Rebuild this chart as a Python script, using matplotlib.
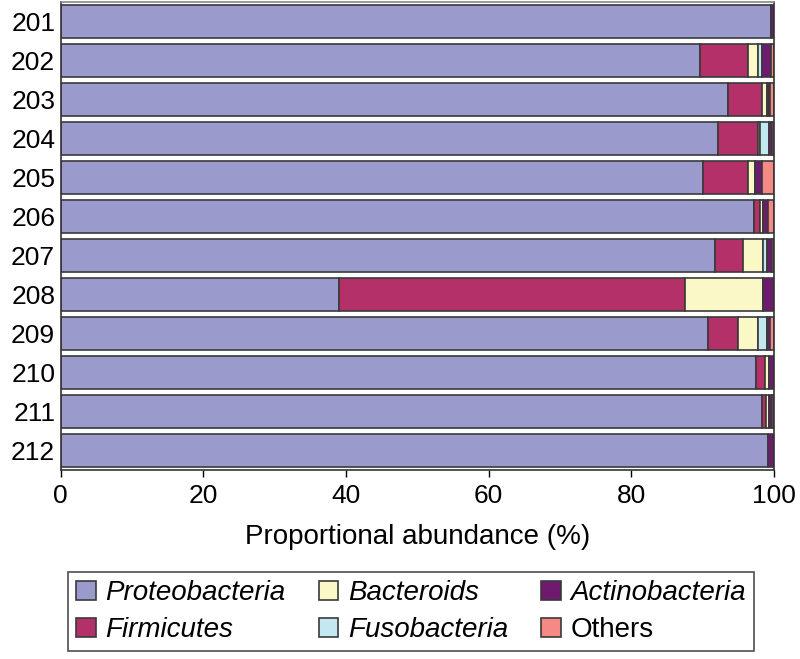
import numpy as np
import matplotlib.pyplot as plt

plt.rcParams['font.family'] = ['Liberation Sans', 'DejaVu Sans']

samples = ['201', '202', '203', '204', '205', '206', '207', '208', '209', '210', '211', '212']

# proportional abundance (%) per phylum
proteobacteria = [99.6, 89.6, 93.5, 92.1, 90.1, 97.2, 91.7, 39.0, 90.8, 97.5, 98.3, 99.2]
firmicutes     = [0.0, 6.7, 4.8, 5.6, 6.2, 0.8, 4.0, 48.5, 4.2, 1.3, 0.6, 0.0]
bacteroids     = [0.0, 1.4, 0.7, 0.3, 1.1, 0.5, 2.8, 11.0, 2.8, 0.5, 0.4, 0.0]
fusobacteria   = [0.0, 0.6, 0.1, 1.3, 0.0, 0.0, 0.5, 0.0, 1.2, 0.0, 0.0, 0.0]
actinobacteria = [0.4, 1.3, 0.3, 0.4, 0.9, 0.7, 0.7, 1.5, 0.4, 0.7, 0.4, 0.8]
others         = [0.0, 0.4, 0.6, 0.3, 1.7, 0.8, 0.3, 0.0, 0.6, 0.0, 0.3, 0.0]

series = [
    ('Proteobacteria', proteobacteria, '#9a9acc', True),
    ('Firmicutes', firmicutes, '#b33068', True),
    ('Bacteroids', bacteroids, '#fbf8c8', True),
    ('Fusobacteria', fusobacteria, '#c4e8f0', True),
    ('Actinobacteria', actinobacteria, '#6e1a6e', True),
    ('Others', others, '#f58a85', False),
]

fig = plt.figure(figsize=(8, 6.59), dpi=100)
ax = fig.add_axes([0.076, 0.287, 0.8915, 0.71])

y = np.arange(len(samples))
left = np.zeros(len(samples))
handles = []
for name, vals, color, italic in series:
    vals = np.array(vals)
    b = ax.barh(y, vals, left=left, height=0.86, color=color,
                edgecolor='#3a3a3a', linewidth=1.2, label=name)
    handles.append(b)
    left += vals

ax.set_xlim(0, 100)
ax.set_ylim(len(samples) - 0.5, -0.5)
ax.set_yticks(y)
ax.set_yticklabels(samples, fontsize=19)
ax.tick_params(axis='y', length=0, pad=4)
ax.set_xticks([0, 20, 40, 60, 80, 100])
ax.tick_params(axis='x', labelsize=19, length=5, width=1, direction='out', pad=5)
ax.set_xlabel('Proportional abundance (%)', fontsize=20, labelpad=12)
for sp in ax.spines.values():
    sp.set_color('#333333')
    sp.set_linewidth(1.2)
ax.spines['top'].set_color('#888888')

leg = fig.legend(handles=handles, loc='center', bbox_to_anchor=(0.514, 0.072),
                 ncol=3, fontsize=20, frameon=True, fancybox=False,
                 edgecolor='#222222', handlelength=0.7, handleheight=0.7,
                 handletextpad=0.35, columnspacing=1.2, borderpad=0.3,
                 labelspacing=0.4)
leg.get_frame().set_linewidth(1.2)
for txt, (_, _, _, italic) in zip(leg.get_texts(), series):
    if italic:
        txt.set_style('italic')

fig.savefig('out.png', dpi=100)
